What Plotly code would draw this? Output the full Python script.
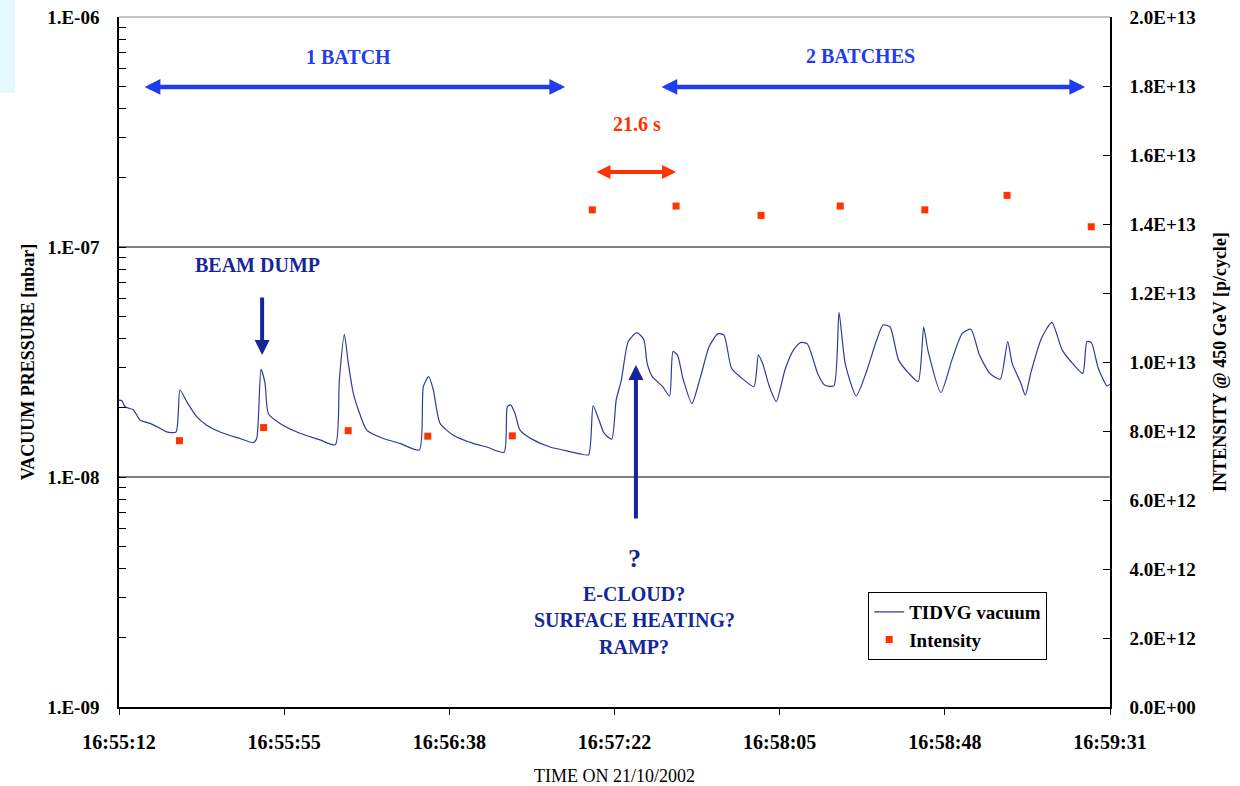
import plotly.graph_objects as go

SERIF = "Liberation Serif, Times New Roman, serif"

# ---------------- data ----------------
# time in seconds after 16:55:12 on 21/10/2002
vac_t = [0.00, 0.71, 1.57, 3.74, 5.49, 8.10, 10.72, 12.47, 14.90, 15.94,
         17.69, 20.31, 22.92, 26.40, 31.63, 35.10, 35.99, 37.11, 38.16, 39.02,
         42.08, 47.31, 52.54, 56.53, 57.58, 58.89, 59.93, 61.24, 62.55, 64.74,
         69.08, 73.44, 78.49, 79.54, 80.95, 82.15, 83.90, 87.38, 92.60, 96.11,
         100.63, 101.49, 102.38, 103.50, 104.81, 108.29, 112.65, 118.74, 120.49, 122.74,
         123.91, 125.44, 126.79, 128.77, 129.94, 131.29, 133.09, 135.34, 137.14, 138.04,
         139.39, 142.09, 143.89, 144.79, 145.96, 147.49, 149.74, 151.99, 154.24, 156.49,
         158.11, 160.09, 162.79, 165.94, 167.11, 168.19, 169.99, 171.79, 174.04, 176.29,
         178.09, 179.89, 182.59, 184.39, 186.82, 188.17, 189.79, 192.67, 195.19, 197.89,
         199.69, 201.49, 203.74, 206.44, 208.87, 210.31, 211.39, 214.81, 217.69, 220.39,
         222.64, 224.89, 227.59, 230.29, 232.27, 233.44, 235.69, 236.86, 238.39, 241.09,
         243.79, 246.49, 249.19, 251.89, 252.97, 254.14, 255.94, 258.19, 259.00]
# TIDVG vacuum pressure [mbar]
vac_p = [2.16e-8, 2.15e-8, 2.02e-8, 1.96e-8, 1.77e-8, 1.71e-8, 1.63e-8, 1.57e-8, 1.57e-8, 2.39e-8,
         2.13e-8, 1.83e-8, 1.68e-8, 1.57e-8, 1.47e-8, 1.41e-8, 1.47e-8, 2.94e-8, 2.56e-8, 1.89e-8,
         1.71e-8, 1.55e-8, 1.45e-8, 1.38e-8, 2.64e-8, 4.17e-8, 3.12e-8, 2.31e-8, 1.96e-8, 1.60e-8,
         1.47e-8, 1.40e-8, 1.31e-8, 2.47e-8, 2.73e-8, 2.39e-8, 1.71e-8, 1.52e-8, 1.40e-8, 1.35e-8,
         1.28e-8, 2.02e-8, 2.06e-8, 1.89e-8, 1.60e-8, 1.45e-8, 1.35e-8, 1.28e-8, 1.26e-8, 1.25e-8,
         2.04e-8, 1.77e-8, 1.55e-8, 1.46e-8, 2.16e-8, 2.64e-8, 3.88e-8, 4.24e-8, 3.97e-8, 3.12e-8,
         2.73e-8, 2.47e-8, 2.25e-8, 3.51e-8, 3.39e-8, 2.64e-8, 2.09e-8, 2.73e-8, 3.69e-8, 4.19e-8,
         4.14e-8, 2.97e-8, 2.69e-8, 2.47e-8, 3.39e-8, 3.12e-8, 2.47e-8, 2.13e-8, 2.92e-8, 3.57e-8,
         3.84e-8, 3.79e-8, 2.82e-8, 2.51e-8, 2.49e-8, 5.20e-8, 3.12e-8, 2.25e-8, 2.82e-8, 3.88e-8,
         4.58e-8, 4.50e-8, 3.23e-8, 2.82e-8, 2.60e-8, 4.48e-8, 3.57e-8, 2.33e-8, 3.23e-8, 4.21e-8,
         4.39e-8, 3.39e-8, 2.82e-8, 2.66e-8, 3.88e-8, 3.12e-8, 2.56e-8, 2.27e-8, 2.87e-8, 4.01e-8,
         4.70e-8, 3.57e-8, 3.12e-8, 2.82e-8, 3.88e-8, 3.84e-8, 2.97e-8, 2.49e-8, 2.53e-8]

# intensity at 450 GeV [p/cycle]
int_t = [15.8, 37.8, 59.9, 80.7, 102.8, 123.7, 145.6, 167.8, 188.5, 210.6, 232.1, 254.1]
int_v = [7.72e12, 8.10e12, 8.01e12, 7.85e12, 7.86e12,
         1.441e13, 1.452e13, 1.425e13, 1.452e13, 1.441e13, 1.483e13, 1.392e13]

x_ticklabels = ["16:55:12", "16:55:55", "16:56:38", "16:57:22", "16:58:05", "16:58:48", "16:59:31"]
x_span = 259.0
y_ticklabels = ["1.E-09", "1.E-08", "1.E-07", "1.E-06"]
y_tickvals = [1e-9, 1e-8, 1e-7, 1e-6]
y_minor = [m * 10.0 ** e for e in (-9, -8, -7) for m in range(2, 10)]
y2_tickvals = [i * 2e12 for i in range(11)]
y2_ticklabels = ["0.0E+00", "2.0E+12", "4.0E+12", "6.0E+12", "8.0E+12", "1.0E+13",
                 "1.2E+13", "1.4E+13", "1.6E+13", "1.8E+13", "2.0E+13"]

# ---------------- figure ----------------
VAC_COL = "#2e3a9e"
INT_COL = "#ff3300"
BLUE = "#1f3cf0"
NAVY = "#16269a"

fig = go.Figure()
fig.add_trace(go.Scatter(x=vac_t, y=vac_p, mode="lines", name="TIDVG vacuum",
                         line=dict(color=VAC_COL, width=1.2, shape="spline", smoothing=0.6),
                         yaxis="y"))
fig.add_trace(go.Scatter(x=int_t, y=int_v, mode="markers", name="Intensity",
                         marker=dict(symbol="square", size=7, color=INT_COL), yaxis="y2"))

tick_font = dict(family=SERIF, size=19, color="black", weight="bold")
title_font = dict(family=SERIF, size=18, color="black", weight="bold")

fig.update_layout(
    width=1240, height=786,
    margin=dict(l=119, r=130, t=17, b=79, autoexpand=False),
    paper_bgcolor="white", plot_bgcolor="white",
    showlegend=True,
    legend=dict(x=0.756, y=0.1667, xanchor="left", yanchor="top",
                bordercolor="black", borderwidth=1, bgcolor="white",
                font=dict(family=SERIF, size=19, color="black", weight="bold"),
                itemwidth=30, tracegroupgap=0),
    xaxis=dict(range=[0, x_span], tickmode="array", automargin=False,
               tickvals=[i * x_span / 6 for i in range(7)], ticktext=x_ticklabels,
               ticks="outside", ticklen=6, tickcolor="black", tickwidth=1,
               showline=True, linecolor="black", linewidth=1.5, showgrid=False, zeroline=False,
               tickfont=dict(family=SERIF, size=20, color="black", weight="bold"),
               ticklabelstandoff=10,
               title=dict(text="TIME ON 21/10/2002", standoff=20,
                          font=dict(family=SERIF, size=18, color="black"))),
    yaxis=dict(type="log", range=[-9, -6], tickmode="array", automargin=False,
               tickvals=y_tickvals, ticktext=y_ticklabels,
               ticks="inside", ticklen=7, tickcolor="black",
               minor=dict(tickmode="array", tickvals=y_minor, ticks="inside", ticklen=7,
                          tickcolor="black", showgrid=False),
               showline=True, linecolor="black", linewidth=1.5, showgrid=False, zeroline=False,
               tickfont=tick_font, ticklabelstandoff=14,
               title=dict(text="VACUUM PRESSURE [mbar]", standoff=8, font=title_font)),
    yaxis2=dict(overlaying="y", side="right", range=[0, 2e13], tickmode="array", automargin=False,
                tickvals=y2_tickvals, ticktext=y2_ticklabels,
                ticks="inside", ticklen=7, tickcolor="black",
                showline=True, linecolor="black", linewidth=1.5, showgrid=False, zeroline=False,
                tickfont=tick_font, ticklabelstandoff=14,
                title=dict(text="INTENSITY @ 450 GeV [p/cycle]", standoff=19, font=title_font)),
)

# decade grid lines (1E-07, 1E-08) and light top border
for yy in (1 / 3, 2 / 3):
    fig.add_shape(type="line", xref="paper", yref="paper", x0=0, x1=1, y0=yy, y1=yy,
                  line=dict(color="black", width=1), layer="below")
fig.add_shape(type="line", xref="paper", yref="paper", x0=0, x1=1, y0=1, y1=1,
              line=dict(color="#8a8a8a", width=1), layer="below")
# faint slide-background corner
fig.add_shape(type="rect", xref="paper", yref="paper", x0=-0.121, x1=-0.105, y0=0.89, y1=1.03,
              line=dict(width=0), fillcolor="#e6f8fc", layer="below")


def text(x, y, s, color, size=20):
    fig.add_annotation(x=x, y=y, xref="x", yref="paper", text=s, showarrow=False,
                       xanchor="center", yanchor="middle",
                       font=dict(family=SERIF, size=size, color=color, weight="bold"))


def harrow(x0, x1, y, color, width=4.5, size=0.7):
    fig.add_annotation(x=x1, y=y, xref="x", yref="paper", ax=x0, ay=0,
                       axref="x", ayref="pixel", text="", showarrow=True,
                       arrowhead=2, startarrowhead=2, arrowside="end+start",
                       arrowsize=size, startarrowsize=size, arrowwidth=width, arrowcolor=color)


def varrow(x, y_head, dy_tail, color, width=4, size=0.75):
    fig.add_annotation(x=x, y=y_head, xref="x", yref="paper", ax=0, ay=dy_tail,
                       text="", showarrow=True, arrowhead=2, arrowsize=size,
                       arrowwidth=width, arrowcolor=color)


text(60.1, 0.942, "1 BATCH", BLUE)
harrow(6.3, 116.6, 0.8986, BLUE)
text(193.7, 0.9435, "2 BATCHES", BLUE)
harrow(141.4, 252.5, 0.8986, BLUE)
text(135.4, 0.845, "21.6 s", INT_COL)
harrow(124.4, 145.6, 0.7754, INT_COL, width=4, size=0.7)
text(36.1, 0.6406, "BEAM DUMP", NAVY)
varrow(37.4, 0.5101, -59, NAVY)
varrow(135.1, 0.4957, 155, NAVY)
text(134.6, 0.2145, "?", NAVY, size=26)
text(134.6, 0.1635, "E-CLOUD?", NAVY)
text(134.6, 0.1255, "SURFACE HEATING?", NAVY)
text(134.6, 0.0865, "RAMP?", NAVY)

fig.write_html("out.html", config={"displayModeBar": False},
               post_script="document.body.style.margin='0';document.body.style.overflow='hidden';")
